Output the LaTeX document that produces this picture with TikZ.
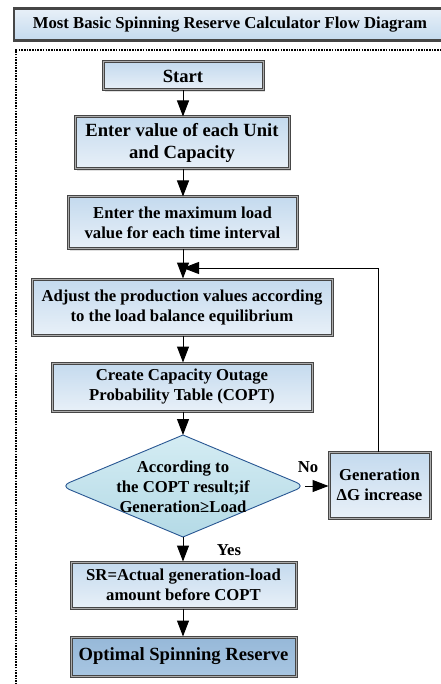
\documentclass[tikz,border=0pt]{standalone}
\usepackage{fontspec}
\setmainfont{Liberation Serif}
\usetikzlibrary{shapes.geometric,arrows.meta,shadows}
\definecolor{boxtop}{RGB}{196,218,238}
\definecolor{boxbot}{RGB}{232,240,248}
\definecolor{opttop}{RGB}{150,184,216}
\definecolor{optbot}{RGB}{168,198,226}
\definecolor{diatop}{RGB}{212,236,243}
\definecolor{diabot}{RGB}{180,218,230}
\definecolor{diadraw}{RGB}{40,86,146}
\definecolor{edgedark}{RGB}{70,70,70}
\tikzset{
  flowbox/.style={rectangle, draw=edgedark, line width=1pt, double=gray!65, double distance=1pt,
    top color=boxtop, bottom color=boxbot, align=center, inner sep=2pt,
    font=\fontsize{16.7}{20}\selectfont\bfseries,
    drop shadow={shadow xshift=2pt, shadow yshift=-2pt, opacity=0.25, fill=gray}},
  bigbox/.style={flowbox, font=\fontsize{18.6}{22}\selectfont\bfseries},
  optbox/.style={bigbox, top color=opttop, bottom color=optbot},
  decshape/.style={draw=diadraw, line width=0.9pt, top color=diatop, bottom color=diabot},
  dectext/.style={align=center, inner sep=0pt, font=\fontsize{16.7}{20}\selectfont\bfseries},
  arr/.style={-{Triangle[length=16pt,width=12pt]}, line width=1pt},
  lbl/.style={font=\fontsize{16.7}{20}\selectfont\bfseries, inner sep=0pt}
}
\begin{document}
\begin{tikzpicture}[x=1pt,y=-1pt]
\useasboundingbox (0,0) rectangle (440,684);
% title
\node[rectangle, draw=edgedark, line width=2.4pt, top color=boxbot, bottom color=boxtop,
  minimum width=432pt, minimum height=32pt, anchor=west,
  drop shadow={shadow xshift=2pt, shadow yshift=-2pt, opacity=0.25, fill=gray}] (title) at (13,24.5) {};
\node[font=\fontsize{16.7}{20}\selectfont\bfseries] (titletext) at (230,24.5) {Most Basic Spinning Reserve Calculator Flow Diagram};
% dashed frame
\coordinate (fa) at (16,690);
\coordinate (fb) at (16,50);
\coordinate (fc) at (445,50);
\draw[line width=1.2pt, dash pattern=on 1.6pt off 1.1pt] (fa) -- (fb) -- (fc);
% nodes
\node[bigbox, minimum width=160pt, minimum height=28pt] (start) at (183,76) {Start};
\node[bigbox, minimum width=214pt, minimum height=52pt] (unit) at (182,143) {Enter value of each Unit\\and Capacity};
\node[flowbox, minimum width=229pt, minimum height=52pt] (load) at (182.5,223) {Enter the maximum load\\value for each time interval};
\node[flowbox, minimum width=300pt, minimum height=56pt] (adjust) at (182,307) {Adjust the production values according\\to the load balance equilibrium};
\node[flowbox, minimum width=260pt, minimum height=48pt] (copt) at (182,387) {Create Capacity Outage\\Probability Table (COPT)};
% decision diamond
\coordinate (dtop) at (183,435);
\coordinate (dright) at (305,486);
\coordinate (dbot) at (183,537);
\coordinate (dleft) at (61,486);
\draw[decshape] (dtop) [rounded corners=9pt] -- (dright) [sharp corners] -- (dbot) [rounded corners=9pt] -- (dleft) [sharp corners] -- cycle;
\node[dectext] (dec) at (183,487) {According to\\the COPT result;if\\Generation≥Load};
\node[flowbox, minimum width=101pt, minimum height=66pt] (gen) at (379.5,485) {Generation\\ΔG increase};
\node[flowbox, minimum width=225pt, minimum height=46pt] (sr) at (183.5,585) {SR=Actual generation-load\\amount before COPT};
\node[optbox, minimum width=225pt, minimum height=39pt] (opt) at (183.5,656.5) {Optimal Spinning Reserve};
% connectors
\coordinate (merge) at (183,268);
\coordinate (fbcorner) at (378,268);
\draw[arr] (start.south -| 183,0) -- (unit.north -| 183,0);
\draw[arr] (unit.south -| 183,0) -- (load.north -| 183,0);
\draw[arr] (load.south -| 183,0) -- (adjust.north -| 183,0);
\draw[arr] (adjust.south -| 183,0) -- (copt.north -| 183,0);
\draw[arr] (copt.south -| 183,0) -- (dtop);
\draw[arr] (dright) -- (gen.west |- dright);
\draw[arr] (dbot) -- (sr.north -| 183,0);
\draw[arr] (sr.south -| 183,0) -- (opt.north -| 183,0);
\draw[arr] (gen.north -| 378,0) -- (fbcorner) -- (merge);
% labels
\node[lbl] (no) at (308,467) {No};
\node[lbl] (yes) at (229,550) {Yes};
\end{tikzpicture}
\end{document}
